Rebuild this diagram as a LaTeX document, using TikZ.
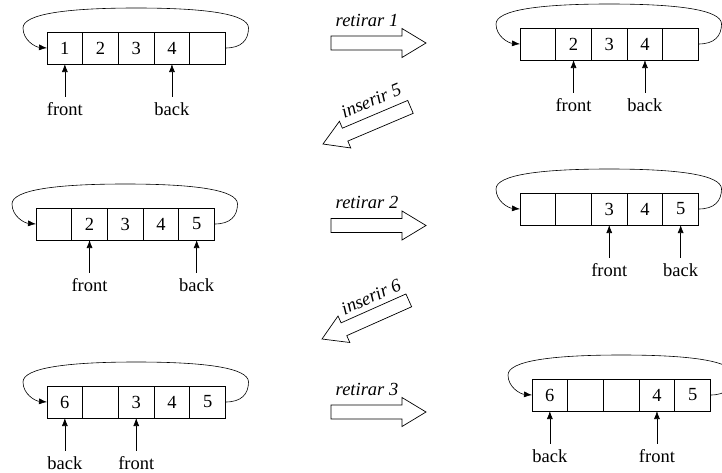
\documentclass[tikz,border=0pt]{standalone}
\usepackage{fontspec}
\setmainfont{Liberation Serif}
\usetikzlibrary{calc,arrows.meta}
\newcommand\qpanel[8]{%
  \node[cell,anchor=north west] (#1-1) at (#2,#3) {#4};
  \node[cell,anchor=west] (#1-2) at (#1-1.east) {#5};
  \node[cell,anchor=west] (#1-3) at (#1-2.east) {#6};
  \node[cell,anchor=west] (#1-4) at (#1-3.east) {#7};
  \node[cell,anchor=west] (#1-5) at (#1-4.east) {#8};
  \coordinate (#1-r) at ($(#1-5.east)+(23,-20)$);
  \coordinate (#1-l) at ($(#1-1.west)+(-24,-20)$);
  \coordinate (#1-t) at ($(#1-1.north west)!0.5!(#1-5.north east)+(0,-24)$);
  \draw[qloop] (#1-5.east) .. controls +(16,0) and +(0,12) .. (#1-r)
    .. controls +(0,-14) and +(70,0) .. (#1-t)
    .. controls +(-70,0) and +(0,-14) .. (#1-l)
    .. controls +(0,12) and +(-12,-1) .. (#1-1.west);
}
\newcommand\qptr[4]{%
  \node[lbl] (#4) at ($(#1-#2.south)+(0,45.5)$) {#3};
  \draw[ptr] (#4) -- (#1-#2.south);
}
\newcommand\bigarr[3]{%
  \draw[bigarrow, shift={(#1,#2)}, rotate=#3] (0,0) -- (-24,14.5) -- (-24,7) -- (-95,7)
    -- (-95,-7) -- (-24,-7) -- (-24,-14.5) -- cycle;
}
\begin{document}
\begin{tikzpicture}[x=1pt,y=-1pt,
  cell/.style={draw, line width=0.8pt, minimum width=35.7pt, minimum height=32pt,
    inner sep=0pt, outer sep=0pt, font=\fontsize{18.5}{20}\selectfont},
  lbl/.style={inner sep=0pt, text height=12.5pt, text depth=0pt,
    font=\fontsize{18.5}{20}\selectfont},
  ptr/.style={line width=0.7pt, -{Latex[length=8pt,width=6pt]}, shorten <=6.5pt},
  qloop/.style={line width=0.6pt, -{Latex[length=8pt,width=6pt]}},
  bigarrow/.style={draw, line width=0.7pt, fill=white, line join=miter},
  oplbl/.style={font=\fontsize{18.5}{20}\selectfont\itshape, inner sep=0pt,
    text height=12.5pt, text depth=0pt}
]
\useasboundingbox (0,0) rectangle (722,472);

\qpanel{a}{47}{32}{1}{2}{3}{4}{}
\qpanel{b}{520}{28}{}{2}{3}{4}{}
\qpanel{c}{36}{208}{}{2}{3}{4}{5}
\qpanel{d}{520}{193}{}{}{3}{4}{5}
\qpanel{e}{47}{386}{6}{}{3}{4}{5}
\qpanel{f}{532}{379}{6}{}{}{4}{5}

\qptr{a}{1}{front}{af}
\qptr{a}{4}{back}{ab}
\qptr{b}{2}{front}{bf}
\qptr{b}{4}{back}{bb}
\qptr{c}{2}{front}{cf}
\qptr{c}{5}{back}{cb}
\qptr{d}{3}{front}{df}
\qptr{d}{5}{back}{db}
\qptr{e}{1}{back}{eb}
\qptr{e}{3}{front}{ef}
\qptr{f}{1}{back}{fb}
\qptr{f}{4}{front}{ff}

\bigarr{426}{43}{0}
\bigarr{426}{225.5}{0}
\bigarr{426}{412}{0}
\bigarr{323}{144}{203}
\bigarr{322}{339}{204}

\node[oplbl] (r1) at (367,20.5) {retirar 1};
\node[oplbl] (r2) at (367,202.5) {retirar 2};
\node[oplbl] (r3) at (367,389.5) {retirar 3};
\node[oplbl, rotate=23] (i5) at (371,100.5) {inserir 5};
\node[oplbl, rotate=24] (i6) at (371,296.5) {inserir 6};
\end{tikzpicture}
\end{document}
